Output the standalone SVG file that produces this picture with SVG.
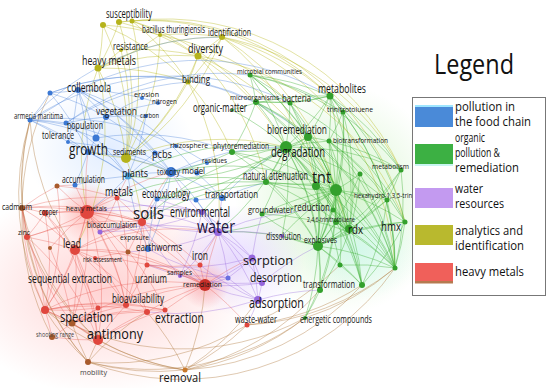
<svg xmlns="http://www.w3.org/2000/svg" width="550" height="388" viewBox="0 0 550 388">
<style>
.e path{fill:none;stroke-width:0.8}
.y path{stroke:rgba(185,185,30,0.5)}
.b path{stroke:rgba(70,125,215,0.45)}
.g path{stroke:rgba(60,175,50,0.5)}
.p path{stroke:rgba(150,105,220,0.45)}
.r path{stroke:rgba(230,85,75,0.42)}
.o path{stroke:rgba(175,120,60,0.5)}
text{font-family:"Open Sans","Liberation Sans",sans-serif;fill:#141414}
.cy{fill:#b5b31c}.cb{fill:#3b78d4}.cg{fill:#33a02c}.cp{fill:#9566dc}.cr{fill:#e0473e}.co{fill:#a85a2c}
.lg text{font-family:"Open Sans","Liberation Sans",sans-serif;font-size:13px;fill:#111}
</style>
<defs>
<radialGradient id="hp"><stop offset="0" stop-color="#ffc4c4" stop-opacity="0.75"/><stop offset="1" stop-color="#ffc4c4" stop-opacity="0"/></radialGradient>
<radialGradient id="hg"><stop offset="0" stop-color="#c4f0b8" stop-opacity="0.75"/><stop offset="1" stop-color="#c4f0b8" stop-opacity="0"/></radialGradient>
<radialGradient id="hv"><stop offset="0" stop-color="#ddccff" stop-opacity="0.7"/><stop offset="1" stop-color="#ddccff" stop-opacity="0"/></radialGradient>
<radialGradient id="hb"><stop offset="0" stop-color="#cfe2ff" stop-opacity="0.6"/><stop offset="1" stop-color="#cfe2ff" stop-opacity="0"/></radialGradient>
<radialGradient id="hr"><stop offset="0" stop-color="#ff9c96" stop-opacity="0.65"/><stop offset="1" stop-color="#ff9c96" stop-opacity="0"/></radialGradient>
<radialGradient id="hc"><stop offset="0" stop-color="#c8f8f0" stop-opacity="0.6"/><stop offset="1" stop-color="#c8f8f0" stop-opacity="0"/></radialGradient>
</defs>
<rect width="550" height="388" fill="#fff"/>
<g id="haze">
<ellipse cx="105" cy="290" rx="150" ry="105" fill="url(#hp)"/>
<ellipse cx="340" cy="200" rx="105" ry="115" fill="url(#hg)"/>
<ellipse cx="360" cy="250" rx="60" ry="50" fill="url(#hc)"/>
<ellipse cx="235" cy="260" rx="70" ry="55" fill="url(#hv)"/>
<ellipse cx="110" cy="150" rx="85" ry="70" fill="url(#hb)"/>
<circle cx="87" cy="212" r="30" fill="url(#hr)"/>
<circle cx="205" cy="285" r="24" fill="url(#hr)"/>
</g>
<g id="connectors" class="e">
<g class="o">
<path d="M88 362A260 260 0 0 1 22 208"/><path d="M88 362A260 260 0 0 1 27 237"/><path d="M88 362A260 260 0 0 1 45 310"/><path d="M88 362A260 260 0 0 1 72 323"/><path d="M88 362A260 260 0 0 1 98 340"/><path d="M52 337A260 260 0 0 1 22 208"/><path d="M98 340A260 260 0 0 1 27 237"/><path d="M185 370A260 260 0 0 1 88 362"/><path d="M185 370A260 260 0 0 1 98 340"/><path d="M185 370A260 260 0 0 1 45 310"/><path d="M185 370A260 260 0 0 1 72 323"/><path d="M247 325A260 260 0 0 1 185 370"/><path d="M247 325A260 260 0 0 1 88 362"/><path d="M305 318A260 260 0 0 1 185 370"/><path d="M305 318A260 260 0 0 1 88 362"/><path d="M320 290A260 260 0 0 1 185 370"/><path d="M205 285A260 260 0 0 1 185 370"/><path d="M147 312A260 260 0 0 1 185 370"/><path d="M258 300A260 260 0 0 1 185 370"/><path d="M22 208A260 260 0 0 1 30 120"/><path d="M27 237A260 260 0 0 1 30 120"/><path d="M75 250A260 260 0 0 1 30 120"/><path d="M45 310A260 260 0 0 1 30 120"/><path d="M22 208A260 260 0 0 1 50 93"/><path d="M362 285A260 260 0 0 1 247 325"/><path d="M395 268A260 260 0 0 1 305 318"/><path d="M395 268A260 260 0 0 1 247 325"/><path d="M340 265A260 260 0 0 1 247 325"/><path d="M88 362A260 260 0 0 1 147 312"/><path d="M305 318A260 260 0 0 1 45 310"/><path d="M395 268A260 260 0 0 1 88 362"/><path d="M98 340A260 260 0 0 1 22 208"/><path d="M362 285A260 260 0 0 1 185 370"/>
</g>
<g class="y">
<path d="M103 25A260 260 0 0 1 98 68"/><path d="M119 22A260 260 0 0 1 98 68"/><path d="M132 21A260 260 0 0 1 198 56"/><path d="M119 22A260 260 0 0 1 198 56"/><path d="M132 21A260 260 0 0 1 188 82"/><path d="M103 25A260 260 0 0 1 126 158"/><path d="M119 22A260 260 0 0 1 126 158"/><path d="M132 21A260 260 0 0 1 126 158"/><path d="M98 68A260 260 0 0 1 198 56"/><path d="M98 68A260 260 0 0 1 188 82"/><path d="M98 68A260 260 0 0 1 126 158"/><path d="M98 68A260 260 0 0 1 222 37"/><path d="M198 56A260 260 0 0 1 222 37"/><path d="M198 56A260 260 0 0 1 188 82"/><path d="M198 56A260 260 0 0 1 126 158"/><path d="M222 37A260 260 0 0 1 188 82"/><path d="M222 37A260 260 0 0 1 126 158"/><path d="M188 82A260 260 0 0 1 126 158"/><path d="M121 50A260 260 0 0 1 198 56"/><path d="M121 50A260 260 0 0 1 98 68"/><path d="M160 35A260 260 0 0 1 222 37"/><path d="M160 35A260 260 0 0 1 98 68"/><path d="M103 25A260 260 0 0 1 160 35"/><path d="M222 37A260 260 0 0 1 330 96"/><path d="M198 56A260 260 0 0 1 286 147"/><path d="M188 82A260 260 0 0 1 232 152"/><path d="M132 21A260 260 0 0 1 256 102"/><path d="M222 37A260 260 0 0 1 401 170"/><path d="M119 22A260 260 0 0 1 405 222"/><path d="M198 56A260 260 0 0 1 349 232"/><path d="M87 212A260 260 0 0 1 98 68"/><path d="M188 82A260 260 0 0 1 218 232"/><path d="M222 37A260 260 0 0 1 316 184"/><path d="M198 56A260 260 0 0 1 266 182"/><path d="M160 35A260 260 0 0 1 290 103"/><path d="M222 37A260 260 0 0 1 336 190"/><path d="M126 158A260 260 0 0 1 142 222"/><path d="M126 158A260 260 0 0 1 88 152"/><path d="M126 158A260 260 0 0 1 171 172"/><path d="M126 158A260 260 0 0 1 286 147"/><path d="M119 22A260 260 0 0 1 330 96"/><path d="M132 21A260 260 0 0 1 401 170"/><path d="M222 37A260 260 0 0 1 395 268"/><path d="M198 56A260 260 0 0 1 405 222"/><path d="M98 68A260 260 0 0 1 75 250"/><path d="M103 25A260 260 0 0 1 188 82"/><path d="M160 35A260 260 0 0 1 126 158"/><path d="M121 50A260 260 0 0 1 126 158"/>
</g>
<g class="b">
<path d="M78 90A260 260 0 0 1 30 120"/><path d="M78 90A260 260 0 0 1 96 138"/><path d="M78 90A260 260 0 0 1 106 117"/><path d="M78 90A260 260 0 0 1 68 142"/><path d="M78 90A260 260 0 0 1 88 152"/><path d="M78 90A260 260 0 0 1 50 93"/><path d="M50 93A260 260 0 0 1 30 120"/><path d="M50 93A260 260 0 0 1 106 117"/><path d="M30 120A260 260 0 0 1 96 138"/><path d="M30 120A260 260 0 0 1 68 142"/><path d="M30 120A260 260 0 0 1 88 152"/><path d="M30 120A260 260 0 0 1 66 123"/><path d="M66 123A260 260 0 0 1 106 117"/><path d="M96 138A260 260 0 0 1 106 117"/><path d="M96 138A260 260 0 0 1 88 152"/><path d="M68 142A260 260 0 0 1 88 152"/><path d="M106 117A260 260 0 0 1 142 98"/><path d="M106 117A260 260 0 0 1 146 116"/><path d="M106 117A260 260 0 0 1 158 103"/><path d="M142 98A260 260 0 0 1 158 103"/><path d="M146 116A260 260 0 0 1 128 176"/><path d="M88 152A260 260 0 0 1 128 176"/><path d="M88 152A260 260 0 0 1 75 185"/><path d="M88 152A260 260 0 0 1 171 172"/><path d="M128 176A260 260 0 0 1 171 172"/><path d="M128 176A260 260 0 0 1 155 153"/><path d="M171 172A260 260 0 0 1 197 173"/><path d="M171 172A260 260 0 0 1 207 163"/><path d="M171 172A260 260 0 0 1 222 198"/><path d="M171 172A260 260 0 0 1 157 199"/><path d="M155 153A260 260 0 0 1 176 146"/><path d="M176 146A260 260 0 0 1 207 163"/><path d="M197 173A260 260 0 0 1 222 198"/><path d="M128 176A260 260 0 0 1 157 199"/><path d="M157 199A260 260 0 0 1 196 200"/><path d="M196 200A260 260 0 0 1 222 198"/><path d="M75 185A260 260 0 0 1 128 176"/><path d="M30 120A260 260 0 0 1 171 172"/><path d="M78 90A260 260 0 0 1 171 172"/><path d="M78 90A260 260 0 0 1 155 153"/><path d="M106 117A260 260 0 0 1 171 172"/><path d="M96 138A260 260 0 0 1 128 176"/><path d="M88 152A260 260 0 0 1 157 199"/><path d="M30 120A260 260 0 0 1 176 146"/><path d="M78 90A260 260 0 0 1 142 98"/><path d="M78 90A260 260 0 0 1 197 173"/><path d="M50 93A260 260 0 0 1 256 102"/><path d="M30 120A260 260 0 0 1 290 103"/><path d="M78 90A260 260 0 0 1 330 96"/><path d="M66 123A260 260 0 0 1 188 82"/><path d="M30 120A260 260 0 0 1 222 37"/><path d="M96 138A260 260 0 0 1 232 152"/><path d="M171 172A260 260 0 0 1 286 147"/><path d="M171 172A260 260 0 0 1 148 249"/><path d="M148 249A260 260 0 0 1 128 176"/><path d="M148 249A260 260 0 0 1 157 199"/><path d="M222 198A260 260 0 0 1 286 147"/><path d="M222 198A260 260 0 0 1 266 182"/><path d="M196 200A260 260 0 0 1 218 232"/><path d="M157 199A260 260 0 0 1 142 222"/><path d="M171 172A260 260 0 0 1 218 232"/><path d="M128 176A260 260 0 0 1 87 212"/><path d="M50 93A260 260 0 0 1 308 137"/><path d="M66 123A260 260 0 0 1 250 75"/><path d="M68 142A260 260 0 0 1 171 172"/><path d="M66 123A260 260 0 0 1 128 176"/><path d="M50 93A260 260 0 0 1 88 152"/>
</g>
<g class="g">
<path d="M330 96A260 260 0 0 1 290 103"/><path d="M330 96A260 260 0 0 1 256 102"/><path d="M330 96A260 260 0 0 1 343 112"/><path d="M330 96A260 260 0 0 1 329 141"/><path d="M330 96A260 260 0 0 1 286 147"/><path d="M330 96A260 260 0 0 1 336 190"/><path d="M330 96A260 260 0 0 1 349 232"/><path d="M330 96A260 260 0 0 1 405 222"/><path d="M330 96A260 260 0 0 1 395 268"/><path d="M330 96A260 260 0 0 1 401 170"/><path d="M330 96A260 260 0 0 1 308 137"/><path d="M250 75A260 260 0 0 1 256 102"/><path d="M250 75A260 260 0 0 1 290 103"/><path d="M250 75A260 260 0 0 1 286 147"/><path d="M250 75A260 260 0 0 1 308 137"/><path d="M250 75A260 260 0 0 1 330 96"/><path d="M256 102A260 260 0 0 1 290 103"/><path d="M256 102A260 260 0 0 1 286 147"/><path d="M256 102A260 260 0 0 1 308 137"/><path d="M256 102A260 260 0 0 1 232 152"/><path d="M290 103A260 260 0 0 1 308 137"/><path d="M290 103A260 260 0 0 1 286 147"/><path d="M290 103A260 260 0 0 1 336 190"/><path d="M308 137A260 260 0 0 1 286 147"/><path d="M308 137A260 260 0 0 1 336 190"/><path d="M308 137A260 260 0 0 1 329 141"/><path d="M308 137A260 260 0 0 1 266 182"/><path d="M343 112A260 260 0 0 1 336 190"/><path d="M343 112A260 260 0 0 1 349 232"/><path d="M343 112A260 260 0 0 1 329 141"/><path d="M286 147A260 260 0 0 1 232 152"/><path d="M286 147A260 260 0 0 1 266 182"/><path d="M286 147A260 260 0 0 1 336 190"/><path d="M286 147A260 260 0 0 1 316 184"/><path d="M286 147A260 260 0 0 1 333 210"/><path d="M286 147A260 260 0 0 1 318 246"/><path d="M286 147A260 260 0 0 1 349 232"/><path d="M286 147A260 260 0 0 1 262 214"/><path d="M286 147A260 260 0 0 1 282 236"/><path d="M286 147A260 260 0 0 1 387 200"/><path d="M286 147A260 260 0 0 1 401 170"/><path d="M286 147A260 260 0 0 1 329 141"/><path d="M329 141A260 260 0 0 1 336 190"/><path d="M329 141A260 260 0 0 1 401 170"/><path d="M329 141A260 260 0 0 1 387 200"/><path d="M329 141A260 260 0 0 1 349 232"/><path d="M329 141A260 260 0 0 1 405 222"/><path d="M329 141A260 260 0 0 1 360 174"/><path d="M336 190A260 260 0 0 1 266 182"/><path d="M336 190A260 260 0 0 1 333 210"/><path d="M336 190A260 260 0 0 1 318 246"/><path d="M336 190A260 260 0 0 1 349 232"/><path d="M336 190A260 260 0 0 1 387 200"/><path d="M336 190A260 260 0 0 1 405 222"/><path d="M336 190A260 260 0 0 1 320 290"/><path d="M336 190A260 260 0 0 1 340 265"/><path d="M336 190A260 260 0 0 1 362 285"/><path d="M336 190A260 260 0 0 1 395 268"/><path d="M336 190A260 260 0 0 1 305 318"/><path d="M316 184A260 260 0 0 1 266 182"/><path d="M316 184A260 260 0 0 1 318 246"/><path d="M316 184A260 260 0 0 1 349 232"/><path d="M318 246A260 260 0 0 1 349 232"/><path d="M318 246A260 260 0 0 1 405 222"/><path d="M318 246A260 260 0 0 1 320 290"/><path d="M318 246A260 260 0 0 1 340 265"/><path d="M318 246A260 260 0 0 1 362 285"/><path d="M318 246A260 260 0 0 1 395 268"/><path d="M318 246A260 260 0 0 1 305 318"/><path d="M318 246A260 260 0 0 1 262 214"/><path d="M318 246A260 260 0 0 1 282 236"/><path d="M349 232A260 260 0 0 1 405 222"/><path d="M349 232A260 260 0 0 1 387 200"/><path d="M349 232A260 260 0 0 1 395 268"/><path d="M349 232A260 260 0 0 1 362 285"/><path d="M349 232A260 260 0 0 1 320 290"/><path d="M405 222A260 260 0 0 1 395 268"/><path d="M387 200A260 260 0 0 1 395 268"/><path d="M401 170A260 260 0 0 1 395 268"/><path d="M401 170A260 260 0 0 1 387 200"/><path d="M360 174A260 260 0 0 1 336 190"/><path d="M360 174A260 260 0 0 1 395 268"/><path d="M336 222A260 260 0 0 1 336 190"/><path d="M336 222A260 260 0 0 1 318 246"/><path d="M336 222A260 260 0 0 1 349 232"/><path d="M320 290A260 260 0 0 1 305 318"/><path d="M340 265A260 260 0 0 1 395 268"/><path d="M340 265A260 260 0 0 1 362 285"/><path d="M256 102A260 260 0 0 1 336 190"/><path d="M232 152A260 260 0 0 1 336 190"/><path d="M266 182A260 260 0 0 1 318 246"/><path d="M262 214A260 260 0 0 1 336 190"/><path d="M333 210A260 260 0 0 1 318 246"/><path d="M333 210A260 260 0 0 1 349 232"/><path d="M232 152A260 260 0 0 1 171 172"/><path d="M308 137A260 260 0 0 1 128 176"/><path d="M286 147A260 260 0 0 1 218 232"/><path d="M336 190A260 260 0 0 1 218 232"/><path d="M290 103A260 260 0 0 1 405 222"/><path d="M250 75A260 260 0 0 1 401 170"/><path d="M308 137A260 260 0 0 1 395 268"/><path d="M256 102A260 260 0 0 1 395 268"/><path d="M250 75A260 260 0 0 1 343 112"/><path d="M232 110A260 260 0 0 1 330 96"/><path d="M232 110A260 260 0 0 1 286 147"/><path d="M286 147A260 260 0 0 1 157 199"/><path d="M336 190A260 260 0 0 1 262 214"/><path d="M329 141A260 260 0 0 1 395 268"/>
<path d="M262 214A260 260 0 0 1 349 232"/><path d="M282 236A260 260 0 0 1 336 190"/><path d="M232 152A260 260 0 0 1 318 246"/><path d="M256 102A260 260 0 0 1 349 232"/><path d="M290 103A260 260 0 0 1 318 246"/><path d="M343 112A260 260 0 0 1 318 246"/><path d="M343 112A260 260 0 0 1 395 268"/><path d="M250 75A260 260 0 0 1 336 190"/><path d="M308 137A260 260 0 0 1 349 232"/><path d="M308 137A260 260 0 0 1 318 246"/><path d="M329 141A260 260 0 0 1 318 246"/><path d="M401 170A260 260 0 0 1 349 232"/><path d="M401 170A260 260 0 0 1 318 246"/><path d="M360 174A260 260 0 0 1 349 232"/><path d="M360 174A260 260 0 0 1 318 246"/><path d="M387 200A260 260 0 0 1 318 246"/><path d="M405 222A260 260 0 0 1 362 285"/><path d="M387 200A260 260 0 0 1 362 285"/><path d="M316 184A260 260 0 0 1 395 268"/><path d="M316 184A260 260 0 0 1 362 285"/><path d="M333 210A260 260 0 0 1 395 268"/><path d="M336 222A260 260 0 0 1 395 268"/><path d="M336 222A260 260 0 0 1 362 285"/><path d="M266 182A260 260 0 0 1 349 232"/><path d="M232 152A260 260 0 0 1 349 232"/><path d="M286 147A260 260 0 0 1 395 268"/><path d="M286 147A260 260 0 0 1 362 285"/><path d="M286 147A260 260 0 0 1 340 265"/><path d="M286 147A260 260 0 0 1 320 290"/><path d="M202 212A260 260 0 0 1 286 147"/><path d="M171 172A260 260 0 0 1 336 190"/><path d="M142 222A260 260 0 0 1 286 147"/><path d="M128 176A260 260 0 0 1 286 147"/><path d="M157 199A260 260 0 0 1 266 182"/><path d="M218 232A260 260 0 0 1 318 246"/><path d="M142 222A260 260 0 0 1 336 190"/><path d="M117 198A260 260 0 0 1 266 182"/>
</g>
<g class="p">
<path d="M218 232A260 260 0 0 1 202 212"/><path d="M218 232A260 260 0 0 1 252 258"/><path d="M218 232A260 260 0 0 1 262 283"/><path d="M218 232A260 260 0 0 1 258 300"/><path d="M218 232A260 260 0 0 1 180 276"/><path d="M218 232A260 260 0 0 1 228 278"/><path d="M218 232A260 260 0 0 1 282 236"/><path d="M252 258A260 260 0 0 1 262 283"/><path d="M252 258A260 260 0 0 1 258 300"/><path d="M262 283A260 260 0 0 1 258 300"/><path d="M258 300A260 260 0 0 1 228 278"/><path d="M252 258A260 260 0 0 1 228 278"/><path d="M180 276A260 260 0 0 1 228 278"/><path d="M202 212A260 260 0 0 1 180 276"/><path d="M202 212A260 260 0 0 1 252 258"/><path d="M218 232A260 260 0 0 1 222 198"/><path d="M218 232A260 260 0 0 1 142 222"/><path d="M258 300A260 260 0 0 1 205 285"/><path d="M252 258A260 260 0 0 1 205 285"/><path d="M258 300A260 260 0 0 1 247 325"/><path d="M262 283A260 260 0 0 1 318 246"/><path d="M258 300A260 260 0 0 1 320 290"/><path d="M252 258A260 260 0 0 1 262 214"/><path d="M218 232A260 260 0 0 1 333 210"/><path d="M258 300A260 260 0 0 1 200 265"/><path d="M202 212A260 260 0 0 1 100 232"/><path d="M218 232A260 260 0 0 1 128 252"/><path d="M252 258A260 260 0 0 1 147 265"/><path d="M262 283A260 260 0 0 1 147 265"/><path d="M258 300A260 260 0 0 1 147 312"/><path d="M202 212A260 260 0 0 1 117 198"/><path d="M218 232A260 260 0 0 1 171 172"/><path d="M228 278A260 260 0 0 1 148 249"/><path d="M180 276A260 260 0 0 1 142 222"/><path d="M100 232A260 260 0 0 1 142 222"/><path d="M202 212A260 260 0 0 1 157 199"/><path d="M228 278A260 260 0 0 1 205 285"/><path d="M262 283A260 260 0 0 1 205 285"/><path d="M87 212A260 260 0 0 1 218 232"/><path d="M87 212A260 260 0 0 1 202 212"/><path d="M100 232A260 260 0 0 1 218 232"/>
</g>
<g class="r">
<path d="M22 208A260 260 0 0 1 45 213"/><path d="M22 208A260 260 0 0 1 87 212"/><path d="M22 208A260 260 0 0 1 27 237"/><path d="M22 208A260 260 0 0 1 75 250"/><path d="M22 208A260 260 0 0 1 57 186"/><path d="M45 310A260 260 0 0 1 22 208"/><path d="M72 323A260 260 0 0 1 22 208"/><path d="M45 213A260 260 0 0 1 87 212"/><path d="M45 213A260 260 0 0 1 27 237"/><path d="M45 213A260 260 0 0 1 75 250"/><path d="M45 213A260 260 0 0 1 45 310"/><path d="M87 212A260 260 0 0 1 75 250"/><path d="M87 212A260 260 0 0 1 117 198"/><path d="M87 212A260 260 0 0 1 142 222"/><path d="M87 212A260 260 0 0 1 100 232"/><path d="M87 212A260 260 0 0 1 57 186"/><path d="M87 212A260 260 0 0 1 45 310"/><path d="M87 212A260 260 0 0 1 72 323"/><path d="M87 212A260 260 0 0 1 98 340"/><path d="M87 212A260 260 0 0 1 126 305"/><path d="M87 212A260 260 0 0 1 205 285"/><path d="M87 212A260 260 0 0 1 27 237"/><path d="M27 237A260 260 0 0 1 75 250"/><path d="M27 237A260 260 0 0 1 45 310"/><path d="M75 250A260 260 0 0 1 45 310"/><path d="M75 250A260 260 0 0 1 72 323"/><path d="M75 250A260 260 0 0 1 98 340"/><path d="M75 250A260 260 0 0 1 95 258"/><path d="M75 250A260 260 0 0 1 142 222"/><path d="M75 250A260 260 0 0 1 126 305"/><path d="M75 250A260 260 0 0 1 205 285"/><path d="M75 250A260 260 0 0 1 128 252"/><path d="M117 198A260 260 0 0 1 142 222"/><path d="M117 198A260 260 0 0 1 100 232"/><path d="M142 222A260 260 0 0 1 100 232"/><path d="M142 222A260 260 0 0 1 128 252"/><path d="M142 222A260 260 0 0 1 205 285"/><path d="M142 222A260 260 0 0 1 200 265"/><path d="M142 222A260 260 0 0 1 126 305"/><path d="M142 222A260 260 0 0 1 147 265"/><path d="M45 310A260 260 0 0 1 72 323"/><path d="M45 310A260 260 0 0 1 98 340"/><path d="M45 310A260 260 0 0 1 126 305"/><path d="M45 310A260 260 0 0 1 52 337"/><path d="M72 323A260 260 0 0 1 98 340"/><path d="M72 323A260 260 0 0 1 52 337"/><path d="M72 323A260 260 0 0 1 126 305"/><path d="M72 323A260 260 0 0 1 147 312"/><path d="M98 340A260 260 0 0 1 52 337"/><path d="M98 340A260 260 0 0 1 126 305"/><path d="M98 340A260 260 0 0 1 147 312"/><path d="M98 340A260 260 0 0 1 165 310"/><path d="M126 305A260 260 0 0 1 165 310"/><path d="M126 305A260 260 0 0 1 205 285"/><path d="M147 312A260 260 0 0 1 205 285"/><path d="M205 285A260 260 0 0 1 200 265"/><path d="M205 285A260 260 0 0 1 247 325"/><path d="M200 265A260 260 0 0 1 147 265"/><path d="M147 265A260 260 0 0 1 126 305"/><path d="M95 258A260 260 0 0 1 128 252"/><path d="M95 258A260 260 0 0 1 126 305"/><path d="M22 208A260 260 0 0 1 142 222"/><path d="M57 186A260 260 0 0 1 117 198"/><path d="M98 308A260 260 0 0 1 72 323"/><path d="M98 308A260 260 0 0 1 126 305"/><path d="M98 308A260 260 0 0 1 75 250"/><path d="M98 308A260 260 0 0 1 45 310"/><path d="M87 212A260 260 0 0 1 88 152"/><path d="M75 185A260 260 0 0 1 87 212"/><path d="M57 186A260 260 0 0 1 75 185"/><path d="M87 212A260 260 0 0 1 171 172"/><path d="M142 222A260 260 0 0 1 171 172"/><path d="M117 198A260 260 0 0 1 128 176"/><path d="M205 285A260 260 0 0 1 218 232"/><path d="M200 265A260 260 0 0 1 218 232"/><path d="M205 285A260 260 0 0 1 252 258"/><path d="M75 250A260 260 0 0 1 218 232"/><path d="M45 310A260 260 0 0 1 205 285"/><path d="M72 323A260 260 0 0 1 205 285"/><path d="M27 237A260 260 0 0 1 142 222"/><path d="M22 208A260 260 0 0 1 117 198"/><path d="M45 213A260 260 0 0 1 142 222"/><path d="M50 248A260 260 0 0 1 87 212"/><path d="M50 248A260 260 0 0 1 72 323"/><path d="M165 310A260 260 0 0 1 205 285"/><path d="M45 310A260 260 0 0 1 147 312"/>
<path d="M27 237A260 260 0 0 1 98 340"/><path d="M45 213A260 260 0 0 1 98 340"/><path d="M57 186A260 260 0 0 1 45 310"/><path d="M117 198A260 260 0 0 1 126 305"/><path d="M100 232A260 260 0 0 1 126 305"/><path d="M128 252A260 260 0 0 1 205 285"/><path d="M95 258A260 260 0 0 1 205 285"/><path d="M147 265A260 260 0 0 1 205 285"/><path d="M75 250A260 260 0 0 1 147 312"/><path d="M45 310A260 260 0 0 1 165 310"/><path d="M72 323A260 260 0 0 1 165 310"/><path d="M87 212A260 260 0 0 1 147 312"/><path d="M87 212A260 260 0 0 1 165 310"/>
</g>
</g>
<g id="nodes">
<g id="n-y1"><circle cx="103" cy="25" r="3" class="cy"/></g>
<g id="n-y2"><circle cx="132" cy="21" r="2.5" class="cy"/></g>
<g id="n-susceptibility"><circle cx="119" cy="22" r="3" class="cy"/><text x="106" y="18" font-size="13" textLength="46" lengthAdjust="spacingAndGlyphs">susceptibility</text></g>
<g id="n-bacillus"><circle cx="160" cy="35" r="2" class="cy"/><text x="142" y="33" font-size="11" textLength="63" lengthAdjust="spacingAndGlyphs">bacillus thuringiensis</text></g>
<g id="n-identification"><circle cx="222" cy="37" r="3" class="cy"/><text x="208" y="36" font-size="11" textLength="43" lengthAdjust="spacingAndGlyphs">identification</text></g>
<g id="n-resistance"><circle cx="121" cy="50" r="2" class="cy"/><text x="113" y="50" font-size="10.5" textLength="35" lengthAdjust="spacingAndGlyphs">resistance</text></g>
<g id="n-heavy-metals-y"><circle cx="98" cy="68" r="3.5" class="cy"/><text x="82" y="65" font-size="13" textLength="54" lengthAdjust="spacingAndGlyphs">heavy metals</text></g>
<g id="n-diversity"><circle cx="198" cy="56" r="3.5" class="cy"/><text x="188" y="53" font-size="13" textLength="35" lengthAdjust="spacingAndGlyphs">diversity</text></g>
<g id="n-binding"><circle cx="188" cy="82" r="2.5" class="cy"/><text x="182" y="83" font-size="11" textLength="28" lengthAdjust="spacingAndGlyphs">binding</text></g>
<g id="n-sediments"><circle cx="126" cy="158" r="5" class="cy"/><text x="113" y="155" font-size="9" textLength="33" lengthAdjust="spacingAndGlyphs">sediments</text></g>

<g id="n-collembola"><circle cx="78" cy="90" r="3" class="cb"/><text x="67" y="92" font-size="12" textLength="44" lengthAdjust="spacingAndGlyphs">collembola</text></g>
<g id="n-b1"><circle cx="50" cy="93" r="2.5" class="cb"/></g>
<g id="n-erosion"><circle cx="142" cy="98" r="2" class="cb"/><text x="134" y="97" font-size="8" textLength="25" lengthAdjust="spacingAndGlyphs">erosion</text></g>
<g id="n-nitrogen"><circle cx="158" cy="103" r="2" class="cb"/><text x="152" y="104" font-size="7" textLength="25" lengthAdjust="spacingAndGlyphs">nitrogen</text></g>
<g id="n-vegetation"><circle cx="106" cy="117" r="3" class="cb"/><text x="96" y="115" font-size="11" textLength="41" lengthAdjust="spacingAndGlyphs">vegetation</text></g>
<g id="n-carbon"><circle cx="146" cy="116" r="2" class="cb"/><text x="140" y="118" font-size="7" textLength="19" lengthAdjust="spacingAndGlyphs">carbon</text></g>
<g id="n-armeria"><circle cx="30" cy="120" r="2.5" class="cb"/><text x="14" y="119" font-size="9" textLength="49" lengthAdjust="spacingAndGlyphs">armeria maritima</text></g>
<g id="n-b2"><circle cx="66" cy="123" r="2.5" class="cb"/></g>
<g id="n-population"><circle cx="96" cy="138" r="3.5" class="cb"/><text x="67" y="129" font-size="10" textLength="36" lengthAdjust="spacingAndGlyphs">population</text></g>
<g id="n-tolerance"><circle cx="68" cy="142" r="2" class="cb"/><text x="42" y="139" font-size="11" textLength="32" lengthAdjust="spacingAndGlyphs">tolerance</text></g>
<g id="n-growth"><circle cx="88" cy="152" r="3" class="cb"/><text x="69" y="155" font-size="16" textLength="39" lengthAdjust="spacingAndGlyphs">growth</text></g>
<g id="n-pcbs"><circle cx="155" cy="153" r="2.5" class="cb"/><text x="152" y="158" font-size="10" textLength="20" lengthAdjust="spacingAndGlyphs">pcbs</text></g>
<g id="n-rhizosphere"><circle cx="176" cy="146" r="2" class="cb"/><text x="170" y="148" font-size="8" textLength="38" lengthAdjust="spacingAndGlyphs">rhizosphere</text></g>
<g id="n-residues"><circle cx="207" cy="163" r="2" class="cb"/><text x="202" y="163" font-size="8" textLength="25" lengthAdjust="spacingAndGlyphs">residues</text></g>
<g id="n-plants"><circle cx="128" cy="176" r="3.5" fill="#4aa0d8"/><text x="122" y="177" font-size="11" textLength="26" lengthAdjust="spacingAndGlyphs">plants</text></g>
<g id="n-toxicity"><circle cx="171" cy="172" r="5" class="cb"/><text x="157" y="175" font-size="9" textLength="23" lengthAdjust="spacingAndGlyphs">toxicity</text></g>
<g id="n-model"><circle cx="197" cy="173" r="2.5" class="cb"/><text x="182" y="174" font-size="9" textLength="23" lengthAdjust="spacingAndGlyphs">model</text></g>
<g id="n-accumulation"><circle cx="75" cy="185" r="2.5" class="cb"/><text x="62" y="183" font-size="11" textLength="43" lengthAdjust="spacingAndGlyphs">accumulation</text></g>
<g id="n-ecotoxicology"><circle cx="157" cy="199" r="2.5" class="cb"/><text x="142" y="198" font-size="12" textLength="48" lengthAdjust="spacingAndGlyphs">ecotoxicology</text></g>
<g id="n-transportation"><circle cx="222" cy="198" r="3" class="cb"/><text x="205" y="198" font-size="10" textLength="53" lengthAdjust="spacingAndGlyphs">transportation</text></g>
<g id="n-b3"><circle cx="196" cy="200" r="2.5" class="cb"/></g>
<g id="n-earthworms"><circle cx="148" cy="249" r="3" class="cb"/><text x="136" y="251" font-size="11" textLength="46" lengthAdjust="spacingAndGlyphs">earthworms</text></g>

<g id="n-microbial-communities"><circle cx="250" cy="75" r="2.5" class="cg"/><text x="237" y="74" font-size="8" textLength="65" lengthAdjust="spacingAndGlyphs">microbial communities</text></g>
<g id="n-microorganisms"><circle cx="256" cy="102" r="3" class="cg"/><text x="230" y="100" font-size="8" textLength="49" lengthAdjust="spacingAndGlyphs">microorganisms</text></g>
<g id="n-bacteria"><circle cx="290" cy="103" r="2.5" class="cg"/><text x="282" y="102" font-size="10" textLength="29" lengthAdjust="spacingAndGlyphs">bacteria</text></g>
<g id="n-metabolites"><circle cx="330" cy="96" r="3.5" class="cg"/><text x="318" y="93" font-size="12" textLength="48" lengthAdjust="spacingAndGlyphs">metabolites</text></g>
<g id="n-trinitrotoluene"><circle cx="343" cy="112" r="2.5" class="cg"/><text x="327" y="112" font-size="7" textLength="46" lengthAdjust="spacingAndGlyphs">trinitrotoluene</text></g>
<g id="n-organic-matter"><circle cx="232" cy="110" r="1.5" class="cg"/><text x="193" y="112" font-size="13" textLength="54" lengthAdjust="spacingAndGlyphs">organic-matter</text></g>
<g id="n-phytoremediation"><circle cx="232" cy="152" r="3" class="cg"/><text x="213" y="149" font-size="9" textLength="56" lengthAdjust="spacingAndGlyphs">phytoremediation</text></g>
<g id="n-bioremediation"><circle cx="308" cy="137" r="4" class="cg"/><text x="267" y="134" font-size="13" textLength="60" lengthAdjust="spacingAndGlyphs">bioremediation</text></g>
<g id="n-biotransformation"><circle cx="329" cy="141" r="2.5" class="cg"/><text x="333" y="143" font-size="8" textLength="55" lengthAdjust="spacingAndGlyphs">biotransformation</text></g>
<g id="n-degradation"><circle cx="286" cy="147" r="6" class="cg"/><text x="271" y="157" font-size="15" textLength="54" lengthAdjust="spacingAndGlyphs">degradation</text></g>
<g id="n-g1"><circle cx="360" cy="174" r="2.5" class="cg"/></g>
<g id="n-metabolism"><circle cx="401" cy="170" r="2.5" class="cg"/><text x="372" y="169" font-size="8" textLength="37" lengthAdjust="spacingAndGlyphs">metabolism</text></g>
<g id="n-natural-attenuation"><circle cx="266" cy="182" r="3" class="cg"/><text x="243" y="180" font-size="12" textLength="65" lengthAdjust="spacingAndGlyphs">natural attenuation</text></g>
<g id="n-tnt"><circle cx="316" cy="186" r="4" class="cg"/><text x="312" y="183" font-size="17" textLength="19" lengthAdjust="spacingAndGlyphs">tnt</text></g>
<g id="n-g2"><circle cx="336" cy="190" r="6" class="cg"/></g>
<g id="n-hexahydro"><circle cx="387" cy="200" r="2.5" class="cg"/><text x="354" y="198" font-size="8" textLength="62" lengthAdjust="spacingAndGlyphs">hexahydro-1,3,5-trinit</text></g>
<g id="n-reduction"><circle cx="333" cy="210" r="2.5" class="cg"/><text x="294" y="211" font-size="10" textLength="36" lengthAdjust="spacingAndGlyphs">reduction</text></g>
<g id="n-groundwater"><circle cx="262" cy="214" r="2.5" class="cg"/><text x="248" y="213" font-size="9" textLength="45" lengthAdjust="spacingAndGlyphs">groundwater</text></g>
<g id="n-246-trinitrotoluene"><circle cx="336" cy="222" r="3" class="cg"/><text x="307" y="222" font-size="7" textLength="48" lengthAdjust="spacingAndGlyphs">2,4,6-trinitrotoluene</text></g>
<g id="n-rdx"><circle cx="349" cy="229" r="4" class="cg"/><text x="348" y="234" font-size="13" textLength="15" lengthAdjust="spacingAndGlyphs">rdx</text></g>
<g id="n-hmx"><circle cx="405" cy="222" r="2.5" class="cg"/><text x="381" y="231" font-size="12" textLength="20" lengthAdjust="spacingAndGlyphs">hmx</text></g>
<g id="n-dissolution"><circle cx="282" cy="236" r="2" class="cp"/><text x="266" y="240" font-size="10" textLength="35" lengthAdjust="spacingAndGlyphs">dissolution</text></g>
<g id="n-explosives"><circle cx="318" cy="246" r="5" class="cg"/><text x="304" y="243" font-size="9" textLength="33" lengthAdjust="spacingAndGlyphs">explosives</text></g>
<g id="n-g3"><circle cx="340" cy="265" r="2.5" class="cg"/></g>
<g id="n-g4"><circle cx="362" cy="285" r="3" class="cg"/></g>
<g id="n-g5"><circle cx="395" cy="268" r="2.5" class="cg"/></g>
<g id="n-transformation"><circle cx="320" cy="290" r="3" class="cg"/><text x="303" y="288" font-size="10" textLength="52" lengthAdjust="spacingAndGlyphs">transformation</text></g>
<g id="n-energetic-compounds"><circle cx="305" cy="318" r="2" class="cg"/><text x="300" y="323" font-size="10" textLength="72" lengthAdjust="spacingAndGlyphs">energetic compounds</text></g>

<g id="n-environmental"><circle cx="202" cy="212" r="3" class="cp"/><text x="170" y="217" font-size="14" textLength="60" lengthAdjust="spacingAndGlyphs">environmental</text></g>
<g id="n-water"><circle cx="218" cy="232" r="4" class="cp"/><text x="197" y="233" font-size="18" textLength="38" lengthAdjust="spacingAndGlyphs" style="fill:#1c1440">water</text></g>
<g id="n-sorption"><circle cx="252" cy="258" r="3.5" class="cp"/><text x="243" y="265" font-size="13" textLength="50" lengthAdjust="spacingAndGlyphs">sorption</text></g>
<g id="n-desorption"><circle cx="262" cy="283" r="3" class="cp"/><text x="250" y="282" font-size="13" textLength="52" lengthAdjust="spacingAndGlyphs">desorption</text></g>
<g id="n-adsorption"><circle cx="258" cy="300" r="4" class="cp"/><text x="249" y="308" font-size="14" textLength="55" lengthAdjust="spacingAndGlyphs">adsorption</text></g>
<g id="n-samples"><circle cx="180" cy="276" r="2" class="cp"/><text x="167" y="275" font-size="7" textLength="25" lengthAdjust="spacingAndGlyphs">samples</text></g>
<g id="n-p1"><circle cx="228" cy="278" r="2.5" fill="#6a6fe0"/></g>
<g id="n-bioaccumulation"><circle cx="100" cy="232" r="2.5" class="cp"/><text x="87" y="228" font-size="9" textLength="50" lengthAdjust="spacingAndGlyphs">bioaccumulation</text></g>

<g id="n-cadmium"><circle cx="22" cy="208" r="3" class="co"/><text x="2" y="210" font-size="9" textLength="30" lengthAdjust="spacingAndGlyphs">cadmium</text></g>
<g id="n-copper"><circle cx="45" cy="213" r="3" class="cr"/><text x="39" y="215" font-size="9" textLength="19" lengthAdjust="spacingAndGlyphs">copper</text></g>
<g id="n-heavy-metals-r"><circle cx="87" cy="212" r="7" class="cr"/><text x="66" y="211" font-size="7" textLength="41" lengthAdjust="spacingAndGlyphs">heavy metals</text></g>
<g id="n-r1"><circle cx="57" cy="186" r="2.5" class="co"/></g>
<g id="n-zinc"><circle cx="27" cy="237" r="3" class="cr"/><text x="18" y="235" font-size="8" textLength="12" lengthAdjust="spacingAndGlyphs">zinc</text></g>
<g id="n-lead"><circle cx="75" cy="250" r="5" class="cr"/><text x="63" y="248" font-size="12" textLength="18" lengthAdjust="spacingAndGlyphs">lead</text></g>
<g id="n-r2"><circle cx="50" cy="248" r="2" class="co"/></g>
<g id="n-metals"><circle cx="117" cy="198" r="2.5" class="cr"/><text x="105" y="196" font-size="13" textLength="28" lengthAdjust="spacingAndGlyphs">metals</text></g>
<g id="n-soils"><circle cx="142" cy="222" r="4" class="cr"/><text x="133" y="219" font-size="17" textLength="31" lengthAdjust="spacingAndGlyphs">soils</text></g>
<g id="n-exposure"><circle cx="128" cy="252" r="2.5" class="co"/><text x="120" y="240" font-size="8" textLength="29" lengthAdjust="spacingAndGlyphs">exposure</text></g>
<g id="n-risk-assessment"><circle cx="95" cy="258" r="2" class="cr"/><text x="83" y="262" font-size="7" textLength="39" lengthAdjust="spacingAndGlyphs">risk assessment</text></g>
<g id="n-sequential-extraction"><circle cx="45" cy="310" r="4" class="cr"/><text x="28" y="283" font-size="13" textLength="84" lengthAdjust="spacingAndGlyphs">sequential extraction</text></g>
<g id="n-uranium"><circle cx="147" cy="265" r="2.5" class="cr"/><text x="135" y="283" font-size="12" textLength="32" lengthAdjust="spacingAndGlyphs">uranium</text></g>
<g id="n-iron"><circle cx="200" cy="265" r="2.5" class="cr"/><text x="192" y="260" font-size="13" textLength="16" lengthAdjust="spacingAndGlyphs">iron</text></g>
<g id="n-remediation"><circle cx="205" cy="285" r="6" fill="#c8302a"/><text x="183" y="287" font-size="8" textLength="39" lengthAdjust="spacingAndGlyphs">remediation</text></g>
<g id="n-bioavailability"><circle cx="126" cy="305" r="3" class="cr"/><text x="112" y="303" font-size="12" textLength="52" lengthAdjust="spacingAndGlyphs">bioavailability</text></g>
<g id="n-r3"><circle cx="98" cy="308" r="2.5" class="cr"/></g>
<g id="n-extraction"><circle cx="147" cy="312" r="3" class="cr"/><text x="155" y="323" font-size="15" textLength="49" lengthAdjust="spacingAndGlyphs">extraction</text></g>
<g id="n-r4"><circle cx="165" cy="310" r="2.5" class="cr"/></g>
<g id="n-speciation"><circle cx="72" cy="323" r="3.5" class="co"/><text x="60" y="322" font-size="14" textLength="53" lengthAdjust="spacingAndGlyphs">speciation</text></g>
<g id="n-antimony"><circle cx="98" cy="340" r="5" class="cr"/><text x="87" y="339" font-size="15" textLength="56" lengthAdjust="spacingAndGlyphs">antimony</text></g>
<g id="n-shooting-range"><circle cx="52" cy="337" r="3" class="co"/><text x="36" y="337" font-size="8" textLength="38" lengthAdjust="spacingAndGlyphs" style="fill:#444">shooting range</text></g>
<g id="n-mobility"><circle cx="88" cy="362" r="3" class="co"/><text x="80" y="375" font-size="8" textLength="27" lengthAdjust="spacingAndGlyphs" style="fill:#444">mobility</text></g>
<g id="n-removal"><circle cx="185" cy="370" r="2.5" fill="#c8782a"/><text x="159" y="382" font-size="13" textLength="42" lengthAdjust="spacingAndGlyphs">removal</text></g>
<g id="n-waste-water"><circle cx="247" cy="325" r="2.5" class="cr"/><text x="235" y="323" font-size="10" textLength="42" lengthAdjust="spacingAndGlyphs">waste-water</text></g>
</g>

<g id="legend" class="lg">
<text x="434" y="74" textLength="80" lengthAdjust="spacingAndGlyphs" style="font-size:27px">Legend</text>
<rect x="412.5" y="97.5" width="133" height="198" fill="#fff" stroke="#777" stroke-width="1"/>
<rect x="415" y="105" width="38" height="2" fill="#9ee6ff"/>
<rect x="415" y="107" width="38" height="20" fill="#4a8ad8"/>
<text x="455" y="111" textLength="60" lengthAdjust="spacingAndGlyphs">pollution in</text>
<text x="455" y="126" textLength="76" lengthAdjust="spacingAndGlyphs">the food chain</text>
<rect x="415" y="144" width="38" height="20" fill="#3cb043"/>
<rect x="415" y="164" width="38" height="2" fill="#c8f5f0"/>
<text x="455" y="142" textLength="30" lengthAdjust="spacingAndGlyphs">organic</text>
<text x="455" y="157" textLength="45" lengthAdjust="spacingAndGlyphs">pollution &amp;</text>
<text x="455" y="172" textLength="64" lengthAdjust="spacingAndGlyphs">remediation</text>
<rect x="415" y="188" width="38" height="20" fill="#c39af0"/>
<text x="455" y="193" textLength="28" lengthAdjust="spacingAndGlyphs">water</text>
<text x="455" y="208" textLength="49" lengthAdjust="spacingAndGlyphs">resources</text>
<rect x="415" y="225" width="38" height="20" fill="#b9b92e"/>
<text x="455" y="235" textLength="68" lengthAdjust="spacingAndGlyphs">analytics and</text>
<text x="455" y="250" textLength="69" lengthAdjust="spacingAndGlyphs">identification</text>
<rect x="415" y="263" width="38" height="18" fill="#f0605a"/>
<rect x="415" y="281" width="38" height="2.5" fill="#b57a50"/>
<text x="455" y="276" textLength="69" lengthAdjust="spacingAndGlyphs">heavy metals</text>
</g>
</svg>
